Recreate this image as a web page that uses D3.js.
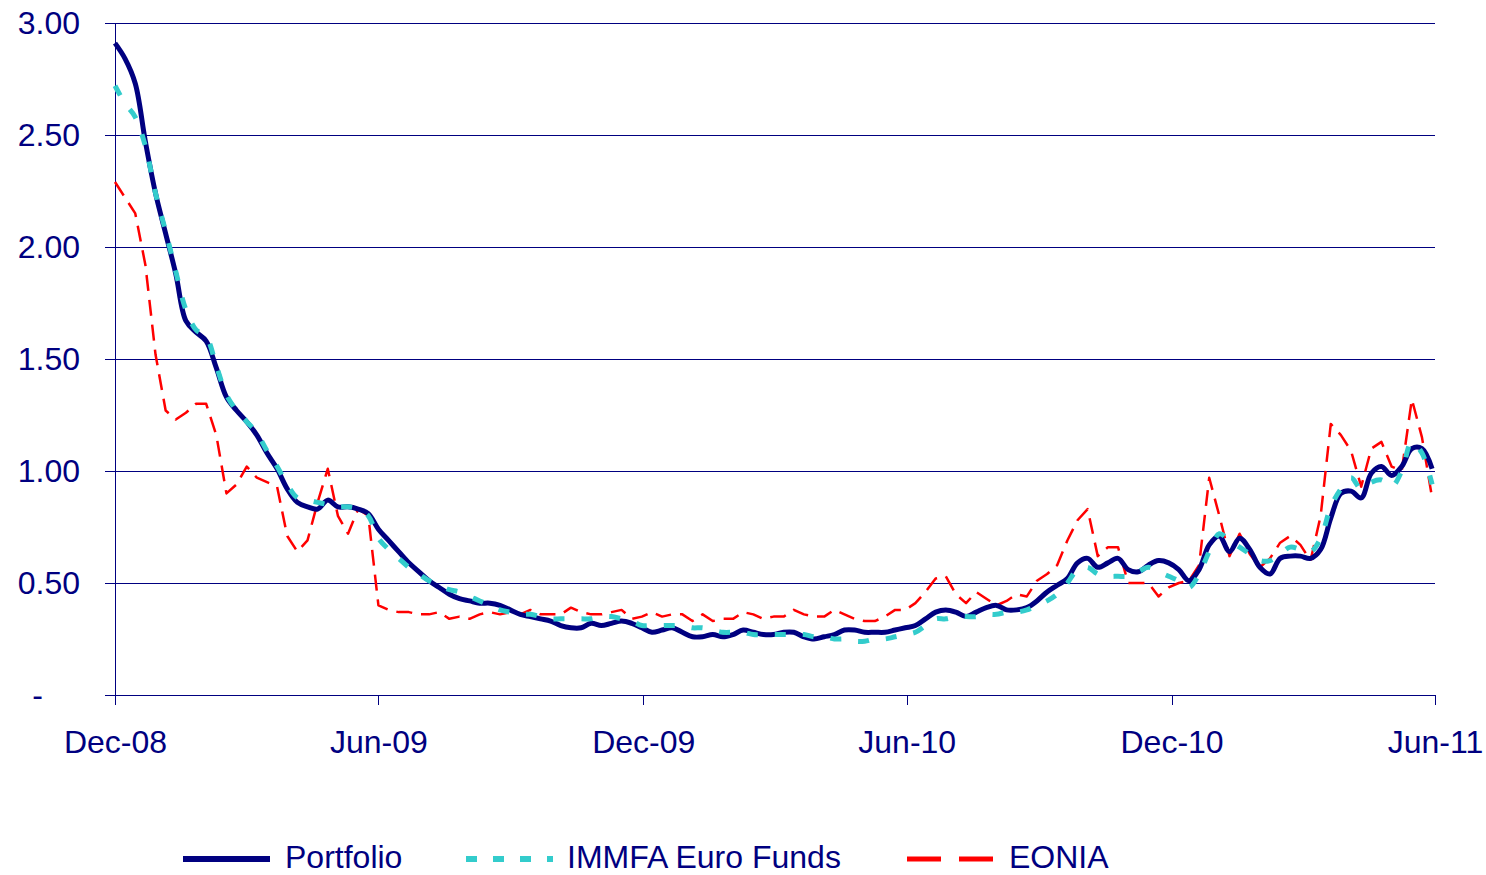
<!DOCTYPE html>
<html>
<head>
<meta charset="utf-8">
<script src="https://cdn.jsdelivr.net/npm/d3@7"></script>
<style>
  body { margin: 0; background: #fff; }
  text { font-family: "Liberation Sans", Arial, sans-serif; fill: #000080; }
</style>
</head>
<body>
<div id="chart"></div>
<script>
// weekly observations, Dec-08 .. Jun-11
const portfolio = [
  2.91, 2.84, 2.73, 2.47, 2.24, 2.06, 1.88, 1.67, 1.62, 1.58,
  1.46, 1.33, 1.27, 1.22, 1.16, 1.08, 1.01, 0.92, 0.86, 0.84,
  0.83, 0.87, 0.84, 0.84, 0.83, 0.81, 0.74, 0.69, 0.64, 0.59,
  0.55, 0.51, 0.48, 0.45, 0.43, 0.42, 0.41, 0.41, 0.40, 0.38,
  0.36, 0.35, 0.34, 0.33, 0.31, 0.30, 0.30, 0.32, 0.31, 0.32,
  0.33, 0.32, 0.30, 0.28, 0.29, 0.30, 0.28, 0.26, 0.26, 0.27,
  0.26, 0.27, 0.29, 0.28, 0.27, 0.27, 0.28, 0.28, 0.26, 0.25,
  0.26, 0.27, 0.29, 0.29, 0.28, 0.28, 0.28, 0.29, 0.30, 0.31,
  0.34, 0.37, 0.38, 0.37, 0.35, 0.37, 0.39, 0.40, 0.38, 0.38,
  0.39, 0.42, 0.46, 0.49, 0.52, 0.59, 0.61, 0.57, 0.59, 0.61,
  0.56, 0.55, 0.58, 0.60, 0.59, 0.56, 0.51, 0.56, 0.67, 0.71,
  0.64, 0.70, 0.65, 0.57, 0.54, 0.61, 0.62, 0.62, 0.61, 0.65,
  0.79, 0.90, 0.91, 0.88, 0.99, 1.02, 0.98, 1.02, 1.10, 1.10,
  1.01
];

const immfa = [
  2.72, 2.64, 2.58, 2.45, 2.24, 2.07, 1.89, 1.72, 1.63, 1.60,
  1.47, 1.34, 1.27, 1.22, 1.17, 1.09, 1.02, 0.94, 0.88, 0.87,
  0.86, 0.85, 0.84, 0.84, 0.83, 0.80, 0.70, 0.65, 0.61, 0.57,
  0.54, 0.51, 0.49, 0.47, 0.46, 0.44, 0.42, 0.40, 0.38, 0.37,
  0.36, 0.36, 0.35, 0.34, 0.34, 0.34, 0.34, 0.34, 0.35, 0.35,
  0.34, 0.33, 0.31, 0.31, 0.31, 0.31, 0.31, 0.30, 0.30, 0.29,
  0.28, 0.28, 0.28, 0.27, 0.27, 0.27, 0.27, 0.27, 0.27, 0.26,
  0.26, 0.25, 0.25, 0.24, 0.24, 0.25, 0.25, 0.26, 0.27, 0.28,
  0.31, 0.34, 0.34, 0.35, 0.35, 0.35, 0.36, 0.36, 0.37, 0.37,
  0.38, 0.40, 0.42, 0.45, 0.50, 0.56, 0.57, 0.54, 0.53, 0.53,
  0.53, 0.55, 0.57, 0.55, 0.53, 0.51, 0.48, 0.54, 0.64, 0.72,
  0.69, 0.66, 0.63, 0.60, 0.60, 0.63, 0.66, 0.65, 0.64, 0.70,
  0.84, 0.92, 0.97, 0.92, 0.95, 0.96, 0.93, 1.00, 1.13, 1.08,
  0.94
];

const eonia = [
  2.29, 2.22, 2.15, 1.92, 1.52, 1.27, 1.23, 1.26, 1.30, 1.30,
  1.16, 0.90, 0.94, 1.02, 0.97, 0.95, 0.93, 0.71, 0.64, 0.69,
  0.86, 1.01, 0.80, 0.72, 0.83, 0.80, 0.40, 0.38, 0.37, 0.37,
  0.36, 0.36, 0.37, 0.34, 0.35, 0.34, 0.36, 0.37, 0.36, 0.37,
  0.36, 0.38, 0.36, 0.36, 0.36, 0.39, 0.37, 0.36, 0.36, 0.37,
  0.38, 0.34, 0.35, 0.37, 0.35, 0.36, 0.36, 0.33, 0.36, 0.33,
  0.34, 0.34, 0.37, 0.36, 0.34, 0.35, 0.35, 0.38, 0.36, 0.35,
  0.35, 0.38, 0.36, 0.34, 0.33, 0.33, 0.35, 0.38, 0.38, 0.41,
  0.46, 0.52, 0.53, 0.45, 0.41, 0.46, 0.43, 0.40, 0.42, 0.45,
  0.44, 0.51, 0.54, 0.58, 0.69, 0.78, 0.83, 0.62, 0.66, 0.66,
  0.50, 0.50, 0.50, 0.44, 0.48, 0.50, 0.51, 0.58, 0.97, 0.80,
  0.62, 0.72, 0.63, 0.57, 0.61, 0.68, 0.71, 0.67, 0.60, 0.80,
  1.21, 1.16, 1.09, 0.93, 1.10, 1.13, 1.02, 1.00, 1.32, 1.15,
  0.88
];

const seriesNames = ["Portfolio", "IMMFA Euro Funds", "EONIA"];
const tickLabels = ["Dec-08", "Jun-09", "Dec-09", "Jun-10", "Dec-10", "Jun-11"];
const yTicks = [0, 0.5, 1, 1.5, 2, 2.5, 3];

const width = 1486, height = 875;
const margin = { top: 23, right: 51, bottom: 180, left: 115 };
const fontSize = "32px";

const start = new Date(2008, 11, 1);
const dates = portfolio.map((d, i) => d3.timeDay.offset(start, 7 * i));
const tickDates = tickLabels.map((d, i) => d3.timeMonth.offset(start, 6 * i));

const svg = d3.select("#chart")
  .append("svg")
  .attr("width", width)
  .attr("height", height);

let x = d3.scaleTime()
  .domain([start, tickDates[tickDates.length - 1]])
  .range([margin.left, width - margin.right]);

let y = d3.scaleLinear()
  .domain([0, 3])
  .range([height - margin.bottom, margin.top]);

// gridlines
svg.append("g")
  .attr("shape-rendering", "crispEdges")
  .selectAll("line")
  .data(yTicks.slice(1))
  .join("line")
  .attr("x1", margin.left)
  .attr("x2", width - margin.right)
  .attr("y1", d => y(d))
  .attr("y2", d => y(d))
  .attr("stroke", "#000080")
  .attr("stroke-width", 1);

// y axis
let yAxis = svg.append("g")
  .attr("transform", `translate(${margin.left},0)`)
  .attr("shape-rendering", "crispEdges")
  .call(d3.axisLeft(y).tickValues(yTicks).tickSize(10).tickPadding(25)
    .tickFormat(d => d === 0 ? "-" : d3.format(".2f")(d)));
yAxis.select(".domain").attr("stroke", "#000080");
yAxis.selectAll(".tick line").attr("stroke", "#000080");
yAxis.selectAll("text")
  .style("font-size", fontSize)
  .attr("fill", "#000080")
  .filter(d => d === 0)
  .attr("x", -72);

// x axis
let xAxis = svg.append("g")
  .attr("transform", `translate(0,${height - margin.bottom})`)
  .attr("shape-rendering", "crispEdges")
  .call(d3.axisBottom(x).tickValues(tickDates).tickSize(10).tickPadding(25)
    .tickFormat((d, i) => tickLabels[i]));
xAxis.select(".domain").attr("stroke", "#000080");
xAxis.selectAll(".tick line").attr("stroke", "#000080");
xAxis.selectAll("text").style("font-size", fontSize).attr("fill", "#000080");

const styles = [
  { values: portfolio, color: "#000080", width: 5, dash: null, curve: d3.curveCatmullRom, legendDash: null },
  { values: immfa, color: "#33cccc", width: 5, dash: "11,17", curve: d3.curveCatmullRom, legendDash: "11,16" },
  { values: eonia, color: "#ff0000", width: 2.5, dash: "16,9", curve: d3.curveLinear, legendDash: "34,18" }
];

// draw back to front: EONIA, Portfolio, IMMFA
for (let s of [styles[2], styles[0], styles[1]]) {
  let line = d3.line()
    .x((d, i) => x(dates[i]))
    .y(d => y(d))
    .curve(s.curve);

  svg.append("path")
    .datum(s.values)
    .attr("fill", "none")
    .attr("stroke", s.color)
    .attr("stroke-width", s.width)
    .attr("stroke-dasharray", s.dash)
    .attr("stroke-linejoin", "round")
    .attr("d", line);
}

// legend
const legendX = [183, 466, 907];
const legend = svg.append("g").attr("transform", "translate(0,856)");
seriesNames.forEach((name, i) => {
  let s = styles[i];
  legend.append("line")
    .attr("x1", legendX[i])
    .attr("x2", legendX[i] + 87)
    .attr("y1", 3)
    .attr("y2", 3)
    .attr("stroke", s.color)
    .attr("stroke-width", i === 2 ? 5 : 6)
    .attr("stroke-dasharray", s.legendDash);
  legend.append("text")
    .attr("x", legendX[i] + (i === 1 ? 101 : 102))
    .attr("dy", "0.36em")
    .style("font-size", fontSize)
    .text(name);
});
</script>
</body>
</html>
